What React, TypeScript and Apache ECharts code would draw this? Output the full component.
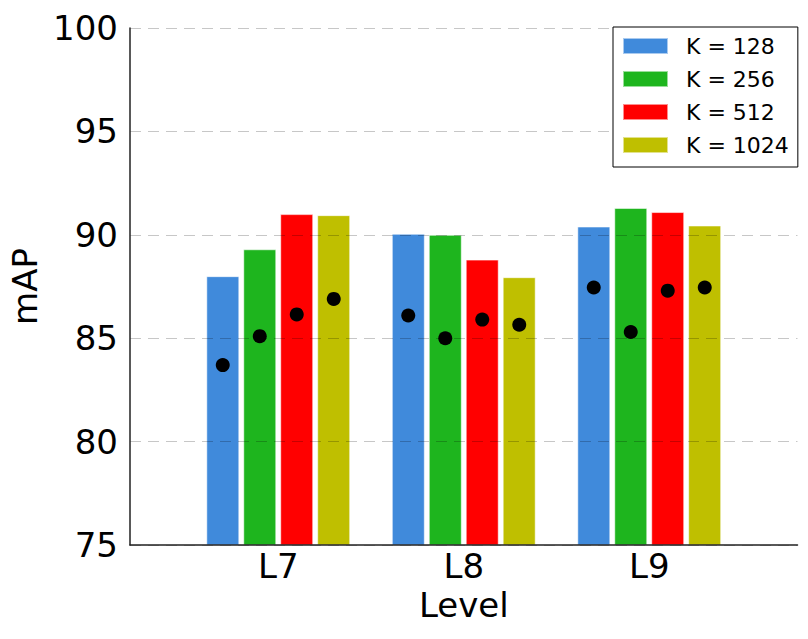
import React, { useEffect, useRef } from "react";
import * as echarts from "echarts";

const categories = ["L7", "L8", "L9"];
const seriesNames = ["K = 128", "K = 256", "K = 512", "K = 1024"];
const k128Bars = [88.0, 90.05, 90.4];
const k256Bars = [89.3, 90.0, 91.3];
const k512Bars = [91.0, 88.8, 91.1];
const k1024Bars = [90.95, 87.95, 90.45];
const k128Dots = [83.7, 86.1, 87.45];
const k256Dots = [85.1, 85.0, 85.3];
const k512Dots = [86.15, 85.9, 87.3];
const k1024Dots = [86.9, 85.65, 87.45];
const yTicks = [75, 80, 85, 90, 95, 100];

const colors = ["#408ADB", "#1EB51E", "#FF0000", "#BFBF00"];
const FONT = "DejaVu Sans";

export default function App() {
  const ref = useRef<HTMLDivElement>(null);
  useEffect(() => {
    document.body.style.margin = "0";
    const chart = echarts.init(ref.current!, null, { renderer: "svg" });
    const bars = [k128Bars, k256Bars, k512Bars, k1024Bars];
    const dots = [k128Dots, k256Dots, k512Dots, k1024Dots];
    const offsets = [-55.5, -18.5, 18.5, 55.5];
    const barSeries = bars.map((d, i) => ({
      type: "bar",
      name: seriesNames[i],
      xAxisIndex: 1,
      yAxisIndex: 1,
      data: d,
      barWidth: 33,
      barGap: "12%",
      itemStyle: {
        color: colors[i],
        borderColor: "rgba(255,255,255,0.55)",
        borderWidth: 1,
      },
      z: 2,
    }));
    const dotSeries = dots.map((d, i) => ({
      type: "scatter",
      name: "dots " + seriesNames[i],
      xAxisIndex: 1,
      yAxisIndex: 1,
      data: d,
      symbol: "circle",
      symbolSize: 14,
      symbolOffset: [offsets[i], 0],
      itemStyle: { color: "#000", opacity: 1 },
      z: 10,
    }));
    chart.setOption({
      animation: false,
      backgroundColor: "#fff",
      textStyle: { fontFamily: FONT },
      grid: [
        { left: 130, right: 10.5, top: 28, bottom: 94 },
        { left: 185.5, right: 66, top: 28, bottom: 94 },
      ],
      legend: {
        data: seriesNames,
        orient: "vertical",
        left: 613,
        top: 27,
        padding: [8, 9, 11, 9],
        itemWidth: 45,
        itemHeight: 16,
        itemGap: 11,
        icon: "rect",
        backgroundColor: "#fff",
        borderColor: "#000",
        borderWidth: 1,
        borderRadius: 0,
        z: 20,
        textStyle: {
          fontSize: 22,
          fontFamily: FONT,
          color: "#000",
          padding: [0, 0, 0, 13],
        },
      },
      xAxis: [
        {
          type: "value",
          gridIndex: 0,
          min: 0,
          max: 1,
          axisLine: { show: true, lineStyle: { color: "#222", width: 1.5 } },
          axisTick: { show: false },
          axisLabel: { show: false },
          splitLine: { show: false },
          z: 6,
        },
        {
          type: "category",
          gridIndex: 1,
          data: categories,
          axisLine: { show: false },
          axisTick: { show: false },
          axisLabel: {
            fontSize: 34,
            color: "#000",
            fontFamily: FONT,
            margin: 4,
          },
          name: "Level",
          nameLocation: "middle",
          nameGap: 41,
          nameTextStyle: { fontSize: 34, color: "#000", fontFamily: FONT },
        },
      ],
      yAxis: [
        {
          type: "value",
          gridIndex: 0,
          min: yTicks[0],
          max: yTicks[yTicks.length - 1],
          interval: 5,
          axisLine: { show: true, lineStyle: { color: "#222", width: 1.5 } },
          axisTick: { show: false },
          axisLabel: {
            fontSize: 34,
            color: "#000",
            fontFamily: FONT,
            margin: 12,
          },
          splitLine: {
            show: true,
            lineStyle: { color: "rgba(0,0,0,0.22)", type: [11, 7], width: 1 },
          },
          name: "mAP",
          nameLocation: "middle",
          nameGap: 88,
          nameRotate: 90,
          nameTextStyle: { fontSize: 34, color: "#000", fontFamily: FONT },
          z: 5,
        },
        {
          type: "value",
          gridIndex: 1,
          min: yTicks[0],
          max: yTicks[yTicks.length - 1],
          interval: 5,
          show: false,
        },
      ],
      series: [...barSeries, ...dotSeries],
    });
    return () => chart.dispose();
  }, []);
  return <div ref={ref} style={{ width: 808, height: 639 }} />;
}
